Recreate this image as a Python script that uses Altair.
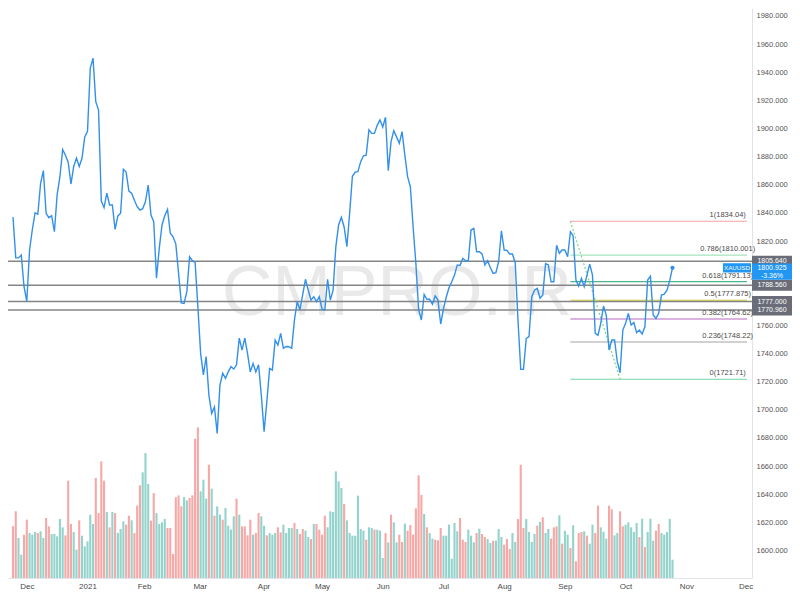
import altair as alt
import pandas as pd

# ---------------- data ----------------
PRICES = [
    1837, 1808, 1808, 1810, 1787.5, 1777, 1813.6, 1828, 1840, 1839,
    1861, 1870, 1839.7, 1836.6, 1838, 1826.6, 1853, 1865.7, 1885, 1881,
    1876, 1860.5, 1873, 1879, 1873, 1878.8, 1894, 1898, 1942.7, 1950,
    1919, 1913, 1848.4, 1843.7, 1854, 1845.6, 1845.6, 1828.3, 1837.8, 1839.7,
    1871, 1869, 1855.5, 1854, 1849, 1844.4, 1842, 1843, 1848, 1859.8,
    1838.5, 1833.7, 1793.5, 1814.8, 1831.4, 1838, 1842.5, 1825.5, 1823, 1818,
    1797, 1776, 1775.6, 1784, 1808.8, 1806, 1804.8, 1773.3, 1740, 1724.8,
    1737.8, 1710.5, 1697.5, 1702, 1683.3, 1717.7, 1726, 1722.4, 1727, 1730.7,
    1729, 1732, 1751, 1742.5, 1751, 1740, 1727, 1733, 1727, 1732,
    1710, 1684.5, 1706, 1729.5, 1728.3, 1749.6, 1746, 1754.4, 1743.7, 1745,
    1744.9, 1743.7, 1763.9, 1776.9, 1771, 1782, 1792.8, 1785, 1778, 1780.4,
    1776.9, 1780.4, 1771.5, 1771, 1792.8, 1778, 1785, 1816, 1831.4, 1836.8,
    1830, 1816, 1839.7, 1866, 1869, 1869.3, 1876.4, 1880.6, 1881, 1899,
    1896.5, 1896.5, 1902.4, 1906, 1901, 1908, 1870, 1890.6, 1898.4, 1894,
    1889.4, 1897.7, 1881, 1865.7, 1858.6, 1830, 1804, 1771, 1763.9, 1782,
    1778.6, 1778.6, 1775, 1781, 1778, 1761, 1772, 1780, 1786.8, 1791,
    1795.8, 1803, 1802.7, 1807.7, 1806, 1806, 1827.8, 1829, 1812.4, 1812.4,
    1810.8, 1803, 1806, 1801, 1797, 1797.5, 1805.3, 1827.3, 1813.6, 1813.4,
    1810.8, 1810.8, 1804.6, 1763.9, 1728.8, 1728.8, 1750.8, 1752, 1780.4, 1785,
    1786.4, 1779.3, 1781.6, 1804, 1803, 1791, 1791, 1817, 1811.3, 1813.6,
    1813.6, 1808.8, 1826.6, 1823.5, 1792.3, 1788, 1793.5, 1787.5, 1795.8, 1803.6,
    1795.8, 1754.4, 1753, 1761.5, 1773.8, 1767.4, 1742.5, 1749.6, 1749.6, 1734.2,
    1726.4, 1756.7, 1761.5, 1768.6, 1760.3, 1762, 1754.8, 1756.7, 1753.9, 1759,
    1792.3, 1795, 1767.4, 1765, 1768.6, 1781.6, 1782.3, 1785, 1792, 1800.925,
]

VOLUMES = [
    155, 200, 120, 70, 130, 175, 135, 130, 138, 135,
    140, 120, 180, 155, 132, 132, 125, 177, 152, 128,
    292, 162, 138, 85, 173, 127, 95, 110, 190, 162,
    300, 195, 350, 292, 198, 152, 198, 195, 135, 147,
    170, 160, 187, 173, 135, 217, 278, 317, 375, 282,
    172, 255, 195, 162, 167, 177, 150, 150, 72, 242,
    248, 215, 243, 233, 240, 248, 418, 452, 260, 295,
    238, 340, 268, 187, 215, 190, 175, 210, 157, 145,
    185, 238, 190, 155, 155, 128, 175, 130, 135, 195,
    185, 157, 128, 135, 130, 135, 152, 137, 160, 135,
    150, 150, 165, 147, 132, 147, 142, 123, 117, 162,
    162, 145, 130, 187, 152, 200, 198, 320, 290, 270,
    222, 173, 135, 127, 127, 247, 147, 142, 115, 152,
    150, 145, 145, 142, 60, 135, 107, 190, 167, 107,
    130,
    108, 163, 142, 159, 130, 209, 308, 249, 192, 152,
    135, 118, 115, 113, 150, 127, 127, 160, 58, 165,
    140, 180, 115, 108, 145, 127, 107, 135, 148, 132,
    123, 117, 105, 112, 112, 147, 123, 100, 117, 87,
    135, 108, 177, 340, 150, 177, 138, 108, 132, 157,
    168, 182, 135, 147, 118, 152, 155, 188, 103, 142,
    130, 90, 158, 50, 135, 138, 140, 127, 103, 160,
    135, 217, 152, 139, 118, 217, 206, 128, 135, 200,
    155, 160, 167, 152, 138, 165, 123, 178, 93, 138,
    178, 112, 142, 162, 135, 130, 138, 177, 55,
]

VOL_DIR = list(
    "rrggrrgggr" "ggrrgggggr" "rrggrggggg" "rrrrgrgrgg" "grrgrrrggg"
    "rrggggrrrr" "rrggrrrrgg" "grgrggrggg" "grgrrrrgrr" "ggrgggrrgg"
    "ggrgrrggrg" "rrrrgggggg" "rgggggggrg" "grgggrgrgg" "r"
    "rgrrrrrrgr" "ggrrrggggg" "grrrgggrgr" "rggrgggrrr" "ggrrrggggr"
    "grggrrrgrg" "grgrrrgrgg" "rrgggrrggr" "rgggggrgrg" "ggrrggggg"
)

MONTH_TICKS = [5, 27, 47.5, 67.7, 90.8, 112, 134, 156, 178, 200, 222, 244, 265.5]
MONTH_LABELS = ["Dec", "2021", "Feb", "Mar", "Apr", "May", "Jun", "Jul",
                "Aug", "Sep", "Oct", "Nov", "Dec"]
# 1780 and 1800 sit under the price tags on the right axis
Y_TICKS = [1600, 1620, 1640, 1660, 1680, 1700, 1720, 1740, 1760,
           1820, 1840, 1860, 1880, 1900, 1920, 1940, 1960, 1980]

LEVEL_PRICES = [1805.64, 1788.56, 1777.0, 1770.96]
LEVEL_LABELS = ["1805.640", "1788.560", "1777.000", "1770.960"]

FIB_RATIOS = ["1", "0.786", "0.618", "0.5", "0.382", "0.236", "0"]
FIB_PRICES = [1834.04, 1810.001, 1791.13, 1777.875, 1764.62, 1748.22, 1721.71]
FIB_TEXTS = ["1834.04", "1810.001", "1791.13", "1777.875", "1764.62", "1748.22", "1721.71"]
FIB_COLORS = ["#f5a3a3", "#a6e3bd", "#4db58c", "#c6c03c", "#b56bbf", "#a4a4a4", "#72d6a3"]
FIB_HIGH_BAR = 202
FIB_LOW_BAR = 220
FIB_LABEL_BAR = 259

LAST_PRICE = 1800.925
LAST_TEXT = "1800.925"
LAST_CHANGE = "-3.36%"
SYMBOL = "XAUUSD"
WATERMARK = "CMPRO.IR"

# ---------------- layout / styles ----------------
W, H = 744, 570
RIGHT = 40
XMIN, XMAX = 0, 266
YMIN, YMAX = 1580.5, 1985.6
FONT = "Liberation Sans, Arial"
LINE_BLUE = "#3390ea"
TAG_GRAY = "#6a6d78"
TAG_BLUE = "#2196f3"
RED = "#f6a8a6"
GREEN = "#93d3cb"

n = len(PRICES)
price_df = pd.DataFrame({"i": list(range(n)), "price": PRICES})
vol_df = pd.DataFrame({"i": list(range(len(VOLUMES))), "vol": VOLUMES, "dir": VOL_DIR[:len(VOLUMES)]})
levels_df = pd.DataFrame({"price": LEVEL_PRICES, "label": LEVEL_LABELS})
fib_df = pd.DataFrame({
    "i": [FIB_HIGH_BAR] * len(FIB_PRICES),
    "i2": [XMAX] * len(FIB_PRICES),
    "price": FIB_PRICES,
    "ratio": FIB_RATIOS,
    "color": FIB_COLORS,
    "text": [f"{r}({t})" for r, t in zip(FIB_RATIOS, FIB_TEXTS)],
    "ti": [FIB_LABEL_BAR] * len(FIB_PRICES),
})
diag_df = pd.DataFrame({"i": [FIB_HIGH_BAR, FIB_LOW_BAR], "price": [FIB_PRICES[0], FIB_PRICES[-1]]})
last_df = pd.DataFrame({"i": [n - 1], "price": [LAST_PRICE], "t1": [LAST_TEXT],
                        "t2": [LAST_CHANGE], "sym": [SYMBOL]})
wm_df = pd.DataFrame({"t": [WATERMARK]})

label_expr = ("[" + ",".join(f"'{m}'" for m in MONTH_LABELS) + "][indexof(["
              + ",".join(str(t) for t in MONTH_TICKS) + "], datum.value)]")

XS = alt.Scale(domain=[XMIN, XMAX], nice=False, zero=False)
X = alt.X("i:Q", title=None, scale=XS,
          axis=alt.Axis(values=MONTH_TICKS, labelExpr=label_expr, grid=False, ticks=False,
                        domainColor="#e0e3eb", labelColor="#4a4a4a", labelFontSize=8,
                        labelFont=FONT, labelPadding=4, labelFlush=False, labelOverlap=False))
Y = alt.Y("price:Q", title=None,
          scale=alt.Scale(domain=[YMIN, YMAX], nice=False, zero=False),
          axis=alt.Axis(orient="right", values=Y_TICKS, format=".3f", grid=False, ticks=False,
                        domainColor="#e0e3eb", labelColor="#555555", labelFontSize=7.5,
                        labelFont=FONT, labelPadding=4, labelOverlap=False))

watermark = alt.Chart(wm_df).mark_text(
    fontSize=70, font=FONT, color="#e9e9e9", align="center", baseline="middle"
).encode(x=alt.value(389), y=alt.value(286), text="t:N")

volume = alt.Chart(vol_df).mark_bar(width=2.1).encode(
    x=X,
    y=alt.Y("vol:Q", title=None, scale=alt.Scale(domain=[0, 1710], nice=False), axis=None),
    color=alt.Color("dir:N", scale=alt.Scale(domain=["r", "g"], range=[RED, GREEN]), legend=None),
)

level_rules = alt.Chart(levels_df).mark_rule(color="#858585", strokeWidth=1.5).encode(y=Y)

fib_rules = alt.Chart(fib_df).mark_rule(strokeWidth=1.1).encode(
    x=X, x2=alt.X2("i2:Q"), y=Y, color=alt.Color("color:N", scale=None))

fib_text = alt.Chart(fib_df).mark_text(
    fontSize=7.5, font=FONT, color="#4a4a4a", align="center", baseline="bottom", dy=-2
).encode(x=alt.X("ti:Q", scale=XS), y=Y, text="text:N")

diag = alt.Chart(diag_df).mark_line(color="#7bd67f", strokeDash=[2, 2], strokeWidth=1.2).encode(x=X, y=Y)

line = alt.Chart(price_df).mark_line(color=LINE_BLUE, strokeWidth=1.4).encode(x=X, y=Y)

end_dot = alt.Chart(last_df).mark_circle(color=LINE_BLUE, size=18, opacity=1).encode(x=X, y=Y)

tag_x = W + RIGHT / 2
tag_w = RIGHT
level_tags = alt.Chart(levels_df).mark_point(
    shape="M-1,-0.27L1,-0.27L1,0.27L-1,0.27Z", size=tag_w * tag_w, filled=True,
    color=TAG_GRAY, opacity=1, strokeWidth=0
).encode(x=alt.value(tag_x), y=Y)
level_tag_text = alt.Chart(levels_df).mark_text(
    fontSize=7, font=FONT, color="white", align="center", baseline="middle"
).encode(x=alt.value(tag_x), y=Y, text="label:N")

last_tag = alt.Chart(last_df).mark_point(
    shape="M-1,-0.22L1,-0.22L1,0.6L-1,0.6Z", size=tag_w * tag_w, filled=True,
    color=TAG_BLUE, opacity=1, strokeWidth=0
).encode(x=alt.value(tag_x), y=Y)
last_t1 = alt.Chart(last_df).mark_text(
    fontSize=7, font=FONT, color="white", align="center", baseline="middle", dy=0.5
).encode(x=alt.value(tag_x), y=Y, text="t1:N")
last_t2 = alt.Chart(last_df).mark_text(
    fontSize=7, font=FONT, color="white", align="center", baseline="middle", dy=8
).encode(x=alt.value(tag_x), y=Y, text="t2:N")

sym_w = 28
sym_x = W - sym_w / 2 - 1
sym_tag = alt.Chart(last_df).mark_point(
    shape="M-1,-0.33L1,-0.33L1,0.33L-1,0.33Z", size=sym_w * sym_w, filled=True,
    color=TAG_BLUE, opacity=1, strokeWidth=0
).encode(x=alt.value(sym_x), y=Y)
sym_text = alt.Chart(last_df).mark_text(
    fontSize=6.2, font=FONT, color="white", align="center", baseline="middle"
).encode(x=alt.value(sym_x), y=Y, text="sym:N")

price_group = alt.layer(
    watermark, level_rules, fib_rules, fib_text, diag, line, end_dot,
    level_tags, level_tag_text, last_tag, last_t1, last_t2, sym_tag, sym_text
)

chart = alt.layer(volume, price_group).resolve_scale(y="independent").properties(
    width=W, height=H,
    padding={"left": 0, "top": 0, "right": RIGHT, "bottom": 14},
    autosize=alt.AutoSizeParams(type="none"),
    background="white",
).configure_view(strokeWidth=0)

chart.save("out.html", embed_options={"renderer": "svg", "actions": False})
